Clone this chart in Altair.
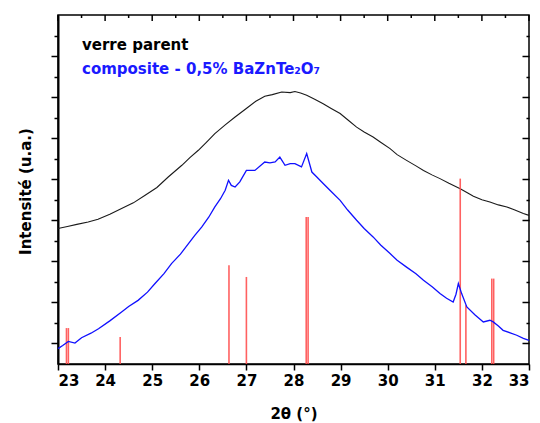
import altair as alt
import pandas as pd

# --- data ---
two_theta_parent = [23.0, 23.2, 23.4, 23.64, 23.85, 24.1, 24.35, 24.6, 24.85, 25.1, 25.34, 25.63,
                    25.8, 25.98, 26.15, 26.33, 26.55, 26.76, 27.04, 27.2, 27.39, 27.55, 27.75,
                    27.93, 28.03, 28.15, 28.28, 28.45, 28.63, 28.8, 28.99, 29.15, 29.34, 29.5,
                    29.69, 29.85, 30.05, 30.2, 30.4, 30.6, 30.76, 30.95, 31.11, 31.3, 31.54,
                    31.7, 31.82, 32.0, 32.17, 32.35, 32.53, 32.7, 32.88, 33.0]
intensity_parent = [6.6, 6.7, 6.8, 6.92, 7.05, 7.3, 7.57, 7.85, 8.22, 8.6, 9.11, 9.68,
                    10.05, 10.41, 10.8, 11.22, 11.65, 12.03, 12.52, 12.8, 13.04, 13.12, 13.25,
                    13.22, 13.27, 13.2, 13.09, 12.9, 12.68, 12.45, 12.2, 11.9, 11.54, 11.3,
                    11.06, 10.8, 10.49, 10.2, 9.92, 9.65, 9.43, 9.2, 9.03, 8.8, 8.54,
                    8.33, 8.17, 8.0, 7.89, 7.75, 7.65, 7.5, 7.33, 7.24]

two_theta_comp = [23.0, 23.1, 23.22, 23.36, 23.5, 23.7, 23.86, 24.1, 24.35, 24.5, 24.7, 24.9,
                  25.06, 25.25, 25.41, 25.6, 25.77, 25.9, 26.05, 26.2, 26.33, 26.45, 26.55, 26.62,
                  26.68, 26.76, 26.86, 27.0, 27.18, 27.39, 27.5, 27.61, 27.71, 27.82, 27.93,
                  28.03, 28.17, 28.28, 28.39, 28.5, 28.63, 28.8, 28.99, 29.15, 29.34, 29.5,
                  29.69, 29.85, 30.05, 30.2, 30.4, 30.6, 30.76, 30.95, 31.11, 31.25, 31.39,
                  31.45, 31.5, 31.57, 31.68, 31.85, 32.03, 32.17, 32.24, 32.35, 32.45, 32.6,
                  32.74, 32.88, 33.0]
intensity_comp = [0.75, 0.9, 1.1, 1.02, 1.28, 1.5, 1.72, 2.1, 2.53, 2.8, 3.1, 3.5,
                  3.92, 4.4, 4.89, 5.35, 5.86, 6.25, 6.67, 7.15, 7.65, 8.05, 8.46, 8.95,
                  8.7, 8.62, 8.87, 9.43, 9.43, 9.84, 9.8, 9.84, 10.08, 9.68, 9.76,
                  9.76, 9.6, 10.25, 9.35, 9.1, 8.79, 8.4, 7.97, 7.5, 7.0, 6.6,
                  6.19, 5.8, 5.38, 5.05, 4.72, 4.4, 4.08, 3.75, 3.43, 3.2, 3.02,
                  3.4, 3.92, 3.43, 2.78, 2.4, 2.05, 2.13, 2.05, 1.85, 1.64, 1.52,
                  1.4, 1.25, 1.15]

ref_two_theta = [23.18, 23.22, 24.32, 26.63, 27.0, 28.27, 28.31, 31.54, 31.66, 32.21, 32.25]
ref_intensity = [1.75, 1.75, 1.32, 4.81, 4.24, 7.16, 7.16, 9.03, 2.86, 4.16, 4.16]

x_tick_values = [23, 23.5, 24, 24.5, 25, 25.5, 26, 26.5, 27, 27.5, 28, 28.5, 29, 29.5,
                 30, 30.5, 31, 31.5, 32, 32.5, 33]
y_tick_values = [1, 2, 3, 4, 5, 6, 7, 8, 9, 10, 11, 12, 13, 14, 15, 16]

legend_labels = ["verre parent", "composite - 0,5% BaZnTe\u2082O\u2087"]
x_title = "2\u03b8 (\u00b0)"
y_title = "Intensit\u00e9 (u.a.)"

FONT = "DejaVu Sans"
W, H = 471, 349

parent = pd.DataFrame({"x": two_theta_parent, "y": intensity_parent})
comp = pd.DataFrame({"x": two_theta_comp, "y": intensity_comp})
ref = pd.DataFrame({"x": ref_two_theta, "y": ref_intensity})
xticks_df = pd.DataFrame({"v": x_tick_values})

xscale = alt.Scale(domain=[23, 33], nice=False, zero=False)
yscale = alt.Scale(domain=[0, 17], nice=False, zero=False)

x_bottom = alt.Axis(
    orient="bottom", values=x_tick_values, format="d",
    labelExpr="datum.value % 1 == 0 ? datum.label : ''",
    tickSize={"condition": {"test": "datum.value % 1 == 0", "value": 6}, "value": 3},
    tickColor="black", tickWidth=1.5, domainColor="black", domainWidth=1.5,
    labelFont=FONT, labelFontWeight="bold", labelFontSize=15, labelColor="black",
    labelPadding=3, grid=False,
    title=x_title, titleFont=FONT, titleFontWeight="bold", titleFontSize=15,
    titleColor="black", titleY=49, titleBaseline="middle",
)
y_left = alt.Axis(
    orient="left", values=y_tick_values, labels=False,
    tickSize={"condition": {"test": "datum.value % 2 == 1", "value": 7}, "value": 4},
    tickColor="black", tickWidth=1.5, domainColor="black", domainWidth=2, grid=False,
    title=y_title, titleFont=FONT, titleFontWeight="bold", titleFontSize=15,
    titleColor="black", titleX=-33, titleY=176, titleAngle=270,
    titleBaseline="middle", titleAlign="center",
)
# mirrored axis along the right edge, ticks pointing into the plot
y_right = alt.Axis(
    orient="right", offset=-7, values=y_tick_values, labels=False, title=None,
    domain=False, tickSize=7, tickColor="black", tickWidth=1.5, grid=False,
    tickDash={"condition": {"test": "datum.value % 2 == 0", "value": [0, 4, 3, 20]},
              "value": [7, 0]},
)

ref_rules = alt.Chart(ref).mark_rule(color="#ff5050", strokeWidth=1.6, opacity=0.9).encode(
    x=alt.X("x:Q", scale=xscale, axis=None),
    y=alt.Y("y:Q", scale=yscale, axis=y_right),
    y2=alt.datum(0),
)
parent_line = alt.Chart(parent).mark_line(color="#1a1a1a", strokeWidth=1.1).encode(
    x=alt.X("x:Q", scale=xscale, axis=x_bottom),
    y=alt.Y("y:Q", scale=yscale, axis=y_left),
)
comp_line = alt.Chart(comp).mark_line(color="#1010ff", strokeWidth=1.3).encode(
    x=alt.X("x:Q", scale=xscale, axis=None),
    y=alt.Y("y:Q", scale=yscale, axis=None),
)

# mirrored ticks along the top edge (pointing into the plot)
top_major = alt.Chart(xticks_df).transform_filter("datum.v % 1 == 0").mark_rule(
    color="black", strokeWidth=1.5
).encode(x=alt.X("v:Q", scale=xscale, axis=None), y=alt.value(0), y2=alt.value(6))
top_minor = alt.Chart(xticks_df).transform_filter("datum.v % 1 != 0").mark_rule(
    color="black", strokeWidth=1.5
).encode(x=alt.X("v:Q", scale=xscale, axis=None), y=alt.value(0), y2=alt.value(3))

label_parent = alt.Chart(pd.DataFrame({"t": [legend_labels[0]]})).mark_text(
    align="left", baseline="alphabetic", font=FONT, fontWeight="bold", fontSize=15, color="black"
).encode(x=alt.value(24), y=alt.value(35), text="t:N")
label_comp = alt.Chart(pd.DataFrame({"t": [legend_labels[1]]})).mark_text(
    align="left", baseline="alphabetic", font=FONT, fontWeight="bold", fontSize=15, color="#1a1aff"
).encode(x=alt.value(24), y=alt.value(59), text="t:N")

chart = alt.layer(
    parent_line, ref_rules, comp_line, top_major, top_minor, label_parent, label_comp
).resolve_axis(
    x="independent", y="independent"
).properties(
    width=W, height=H,
    autosize=alt.AutoSizeParams(type="none"),
    padding={"left": 50, "top": 7, "right": 3, "bottom": 60},
    background="white",
).configure_view(stroke="black", strokeWidth=1.5)

chart.save("out.html", embed_options={"renderer": "svg", "actions": False})
